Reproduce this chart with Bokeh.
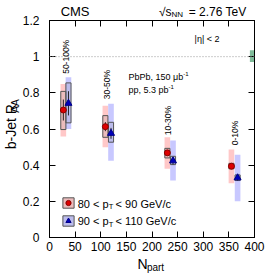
import math
from bokeh.plotting import figure
from bokeh.layouts import row, column
from bokeh.models import (Range1d, LinearAxis, FixedTicker, NumeralTickFormatter, Label,
                          Span, Legend, LegendItem, CustomJSTickFormatter)
from bokeh.embed import file_html
from bokeh.resources import INLINE

# ---------------- data ----------------
centrality = ["50-100%", "30-50%", "10-30%", "0-10%"]
label_npart = [33, 113, 232, 361]
label_y = [0.905, 0.765, 0.565, 0.51]

npart_red = [27, 109, 230, 355]
raa_red = [0.705, 0.613, 0.468, 0.394]
stat_red = [0.058, 0.025, 0.015, 0.010]
box_red_lo = [0.597, 0.554, 0.440, 0.380]
box_red_hi = [0.808, 0.674, 0.493, 0.410]
band_red_lo = [0.558, 0.499, 0.380, 0.300]
band_red_hi = [0.849, 0.729, 0.554, 0.486]

npart_blue = [37, 120, 241, 367]
raa_blue = [0.742, 0.576, 0.424, 0.330]
stat_blue = [0.067, 0.030, 0.020, 0.015]
box_blue_lo = [0.634, 0.527, 0.403, 0.315]
box_blue_hi = [0.855, 0.637, 0.449, 0.346]
band_blue_lo = [0.600, 0.425, 0.315, 0.200]
band_blue_hi = [0.886, 0.739, 0.536, 0.457]

norm_x = [397]
norm_lo = [0.970]
norm_hi = [1.035]

x_ticks = [0, 50, 100, 150, 200, 250, 300, 350, 400]
y_ticks = [0, 0.2, 0.4, 0.6, 0.8, 1.0, 1.2]

FONT = "Liberation Sans"

# page layout (pixels)
W_T, W_L, W_B = 22, 23, 221
H_TOP, H_F, H_BOT = 19, 238, 16
H_ALL = H_TOP + H_F + H_BOT
FRAME_TOP, FRAME_BOTTOM = 20, 237

xr = Range1d(0, 400)
yr = Range1d(0, 1.2)

# ---------------- main plot ----------------
p = figure(width=W_B, height=H_F, x_range=xr, y_range=yr,
           output_backend="svg", toolbar_location=None,
           min_border_left=4, min_border_right=12, min_border_top=1, min_border_bottom=20)
p.xgrid.visible = False
p.ygrid.visible = False
p.outline_line_color = "black"
p.background_fill_color = "white"

def style_axis(ax, ticks, nminor, labels=True):
    ax.ticker = FixedTicker(ticks=ticks, num_minor_ticks=nminor)
    ax.major_tick_in = 6
    ax.major_tick_out = 0
    ax.minor_tick_in = 3
    ax.minor_tick_out = 0
    ax.axis_line_color = "black"
    ax.major_tick_line_color = "black"
    ax.minor_tick_line_color = "black"
    if labels:
        ax.major_label_text_font = FONT
        ax.major_label_text_font_size = "12px"
        ax.major_label_text_color = "black"
        ax.major_label_standoff = 4
    else:
        ax.formatter = CustomJSTickFormatter(code="return ''")
        ax.major_label_text_font_size = "0px"
        ax.major_label_standoff = 0

style_axis(p.xaxis[0], x_ticks, 5)
style_axis(p.yaxis[0], y_ticks, 4, labels=False)

ax_top = LinearAxis()
style_axis(ax_top, x_ticks, 5, labels=False)
p.add_layout(ax_top, "above")
ax_right = LinearAxis()
style_axis(ax_right, y_ticks, 4, labels=False)
p.add_layout(ax_right, "right")

p.add_layout(Span(location=1.0, dimension="width", line_color="#999999",
                  line_dash="1 2", line_width=1))

p.vbar(x=norm_x, width=12, bottom=norm_lo, top=norm_hi, fill_color="#5faa80",
       fill_alpha=0.8, line_color=None)

rb_r = p.vbar(x=npart_red, width=11, bottom=band_red_lo, top=band_red_hi,
              fill_color="#ffc8c8", line_color=None)
rb_b = p.vbar(x=npart_blue, width=11, bottom=band_blue_lo, top=band_blue_hi,
              fill_color="#c8c8ff", line_color=None)
bx_r = p.vbar(x=npart_red, width=10, bottom=box_red_lo, top=box_red_hi,
              fill_color="#777777", fill_alpha=0.15, line_color="#555555", line_width=1)
bx_b = p.vbar(x=npart_blue, width=10, bottom=box_blue_lo, top=box_blue_hi,
              fill_color="#777777", fill_alpha=0.15, line_color="#555555", line_width=1)
p.segment(x0=npart_red, x1=npart_red,
          y0=[v - e for v, e in zip(raa_red, stat_red)],
          y1=[v + e for v, e in zip(raa_red, stat_red)], line_color="#222222", line_width=1)
p.segment(x0=npart_blue, x1=npart_blue,
          y0=[v - e for v, e in zip(raa_blue, stat_blue)],
          y1=[v + e for v, e in zip(raa_blue, stat_blue)], line_color="#222222", line_width=1)
pt_r = p.scatter(x=npart_red, y=raa_red, marker="circle", size=6,
                 fill_color="#dd0000", line_color="#880000")
pt_b = p.scatter(x=npart_blue, y=raa_blue, marker="triangle", size=7,
                 fill_color="#0000bb", line_color="#000088")

legend = Legend(items=[LegendItem(label=" ", renderers=[rb_r, bx_r, pt_r]),
                       LegendItem(label=" ", renderers=[rb_b, bx_b, pt_b])],
                location=(12, 10), orientation="vertical", glyph_width=14, glyph_height=13,
                spacing=5, padding=0, margin=0, border_line_color=None,
                background_fill_alpha=0, label_text_font_size="4px", label_standoff=0,
                label_width=0, label_height=0)
p.add_layout(legend)

def lab(fig, x, y, text, size, angle=0.0, align="left", baseline="middle"):
    fig.add_layout(Label(x=x, y=y, text=text, text_font=FONT, text_font_size=size,
                         angle=angle, text_align=align, text_baseline=baseline,
                         text_color="black"))

for cx, cy, t in zip(label_npart, label_y, centrality):
    lab(p, cx, cy, t, "8.5px", angle=math.pi / 2)

lab(p, 283, 1.10, "|\u03b7| < 2", "9px")
lab(p, 154, 0.885, "PbPb, 150 \u03bcb", "9px")
lab(p, 261, 0.905, "-1", "6px")
lab(p, 154, 0.813, "pp, 5.3 pb", "9px")
lab(p, 232, 0.833, "-1", "6px")

lab(p, 55, 0.188, "80 < p", "11px")
lab(p, 115.5, 0.170, "T", "7.5px")
lab(p, 129, 0.188, "< 90 GeV/c", "11px")
lab(p, 55, 0.090, "90 < p", "11px")
lab(p, 115.5, 0.072, "T", "7.5px")
lab(p, 129, 0.090, "< 110 GeV/c", "11px")

# ---------------- y tick labels (own narrow figure sharing the y range) ----------------
ylab = figure(width=W_L, height=H_ALL, x_range=Range1d(0, 1), y_range=yr,
              x_axis_type=None, y_axis_type=None, output_backend="svg",
              toolbar_location=None, min_border_left=W_L - 1, min_border_right=0,
              min_border_top=FRAME_TOP, min_border_bottom=H_ALL - FRAME_BOTTOM)
ylab.outline_line_color = None
yax = LinearAxis(ticker=FixedTicker(ticks=y_ticks),
                 formatter=NumeralTickFormatter(format="0.[0]"))
yax.axis_line_color = None
yax.major_tick_line_color = None
yax.minor_tick_line_color = None
yax.major_label_text_font = FONT
yax.major_label_text_font_size = "12px"
yax.major_label_text_color = "black"
yax.major_label_standoff = 0
ylab.add_layout(yax, "left")

# ---------------- text strips around the plot (page-pixel coordinates) ----------------
def strip(ox, oy, w, h):
    f = figure(width=w, height=h, x_range=Range1d(ox, ox + w), y_range=Range1d(-(oy + h), -oy),
               x_axis_type=None, y_axis_type=None, output_backend="svg",
               toolbar_location=None, min_border=0)
    f.outline_line_color = None
    return f

def plab(fig, px, py, text, size, angle=0.0):
    lab(fig, px, -py, text, size, angle=angle)

left = strip(0, 0, W_T, H_ALL)
plab(left, 10.5, 162, "b-Jet R", "14px", angle=math.pi / 2)
plab(left, 15, 116, "AA", "10px", angle=math.pi / 2)

x0 = W_T + W_L
top = strip(x0, 0, W_B, H_TOP)
plab(top, 57, 10.5, "CMS", "13px")
plab(top, 163, 11, "\u221as", "12px")
plab(top, 176.5, 14, "NN", "8px")
plab(top, 195, 11, "= 2.76 TeV", "12px")

bot = strip(x0, H_TOP + H_F, W_B, H_BOT)
plab(bot, 140, 263, "N", "14px")
plab(bot, 150, 267, "part", "10px")

layout = row(left, ylab, column(top, p, bot))
open("out.html", "w").write(file_html(layout, INLINE))
